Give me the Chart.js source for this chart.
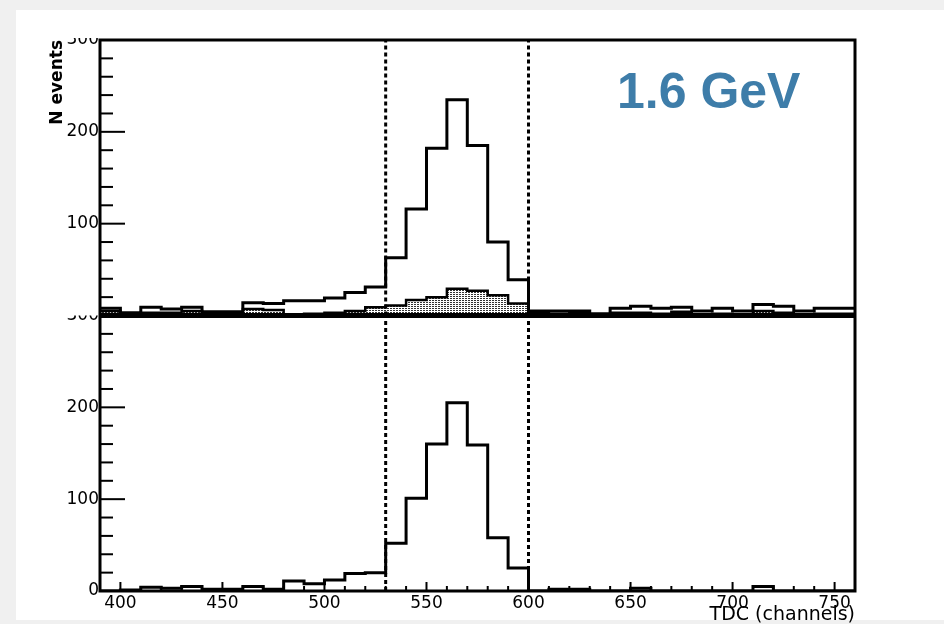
<!DOCTYPE html>
<html>
<head>
<meta charset="utf-8">
<script src="https://cdn.jsdelivr.net/npm/chart.js@4/dist/chart.umd.min.js"></script>
<style>
html,body{margin:0;padding:0;background:#f0f0f0;overflow:hidden}
canvas{position:absolute;left:0;top:0}
</style>
</head>
<body>
<canvas id="c" width="944" height="624"></canvas>
<script>
// ---- data ----
const binEdges = [390,400,410,420,430,440,450,460,470,480,490,500,510,520,530,540,550,560,570,580,590,600,610,620,630,640,650,660,670,680,690,700,710,720,730,740,750,760];
// top panel: all events (outline)
const topTotal = [8,3,9,7,9,4,4,14,13,16,16,19,25,31,63,116,182,235,185,80,39,5,5,5,2,8,10,8,9,5,8,5,12,10,5,8,8];
// top panel: background (dotted fill)
const topBackground = [5,2,3,3,5,2,1,7,6,1,2,3,5,9,11,17,20,29,27,22,13,3,2,3,1,3,3,2,4,1,2,1,5,3,1,2,2];
// bottom panel: after subtraction
const bottomSignal = [0,1,4,3,5,2,2,5,2,11,8,12,19,20,52,101,160,205,159,58,25,0,2,2,0,0,3,0,0,0,0,0,5,0,0,0,0];
const cutLines = [530, 600];
const yTickValues = [0,100,200,300];
const xTickValues = [400,450,500,550,600,650,700,750];
const yRange = [0,300];
const xRange = [390,760];
const energyLabel = '1.6 GeV';

function histPoints(vals){
  const pts = vals.map((v,i)=>({x:binEdges[i], y:v}));
  pts.push({x:binEdges[vals.length], y:vals[vals.length-1]});
  return pts;
}

// dotted fill pattern
const pc = document.createElement('canvas');
pc.width = 3; pc.height = 2;
const pctx = pc.getContext('2d');
pctx.fillStyle = '#ffffff'; pctx.fillRect(0,0,3,2);
pctx.fillStyle = '#333333'; pctx.fillRect(0,0,2,1);
const dotPattern = pctx.createPattern(pc,'repeat');

const datasets = [
  {data:histPoints(topTotal), yAxisID:'yTop', borderColor:'#000', borderWidth:3, stepped:'before', pointRadius:0, fill:false, order:1},
  {data:histPoints(topBackground), yAxisID:'yTop', borderColor:'#000', borderWidth:2.5, stepped:'before', pointRadius:0, fill:'origin', backgroundColor:dotPattern, order:2},
  {data:histPoints(bottomSignal), yAxisID:'yBot', borderColor:'#000', borderWidth:3, stepped:'before', pointRadius:0, fill:false, order:1}
];
cutLines.forEach(c=>{
  ['yTop','yBot'].forEach(ax=>{
    datasets.push({data:[{x:c,y:yRange[0]},{x:c,y:yRange[1]}], yAxisID:ax, borderColor:'#000', borderWidth:3, borderDash:[4,3], pointRadius:0, fill:false, order:0});
  });
});

const framePlugin = {
  id:'frame',
  beforeDraw(chart){
    const ctx = chart.ctx;
    ctx.save();
    ctx.fillStyle = '#f0f0f0'; ctx.fillRect(0,0,944,624);
    ctx.fillStyle = '#ffffff'; ctx.fillRect(16,10,928,610);
    ctx.restore();
  },
  afterDatasetsDraw(chart){
    const ctx = chart.ctx;
    const {left,right,top,bottom} = chart.chartArea;
    const yT = chart.scales.yTop, yB = chart.scales.yBot, x = chart.scales.x;
    const split = yT.getPixelForValue(0);
    ctx.save();
    // clip the partially hidden labels like the pad edges
    ctx.fillStyle = '#ffffff';
    ctx.fillRect(60, top-14, 38, 12);
    ctx.fillRect(60, split-10, 38, 10);
    ctx.strokeStyle = '#000';
    // ticks
    ctx.lineWidth = 2;
    [yT,yB].forEach(s=>{
      for(let v=yRange[0]; v<=yRange[1]; v+=20){
        const p = s.getPixelForValue(v);
        const len = (v%100===0)?25:13;
        ctx.beginPath(); ctx.moveTo(left,p); ctx.lineTo(left+len,p); ctx.stroke();
      }
    });
    for(let v=xRange[0]; v<=xRange[1]; v+=10){
      const p = x.getPixelForValue(v);
      const len = (v%50===0)?9:5;
      ctx.beginPath(); ctx.moveTo(p,bottom); ctx.lineTo(p,bottom-len); ctx.stroke();
    }
    // frame
    ctx.lineWidth = 3;
    ctx.strokeRect(left, top, right-left, bottom-top);
    ctx.lineWidth = 5;
    ctx.beginPath(); ctx.moveTo(left,split); ctx.lineTo(right,split); ctx.stroke();
    // energy label
    ctx.fillStyle = '#3e7da9';
    ctx.font = 'bold 50px "Liberation Sans"';
    ctx.textAlign = 'left'; ctx.textBaseline = 'alphabetic';
    ctx.fillText(energyLabel, 617, 108);
    ctx.restore();
  }
};

const tickFont = {family:'DejaVu Sans', size:17};
const yCommon = {
  type:'linear', position:'left', stack:'panels', stackWeight:1,
  min:yRange[0], max:yRange[1],
  afterFit:s=>{s.width=53;},
  afterBuildTicks:s=>{s.ticks=yTickValues.map(v=>({value:v}));},
  grid:{display:false, drawTicks:false}, border:{display:false},
  ticks:{font:tickFont, color:'#000', padding:1, autoSkip:false}
};

new Chart(document.getElementById('c'), {
  type:'line',
  data:{datasets},
  plugins:[framePlugin],
  options:{
    responsive:false, animation:false, devicePixelRatio:1,
    layout:{padding:{left:47,right:89,top:40,bottom:0}},
    plugins:{legend:{display:false}, tooltip:{enabled:false}},
    scales:{
      x:{type:'linear', position:'bottom', min:xRange[0], max:xRange[1],
        afterFit:s=>{s.height=33;},
        afterBuildTicks:s=>{s.ticks=xTickValues.map(v=>({value:v}));},
        grid:{display:false, drawTicks:false}, border:{display:false},
        ticks:{font:tickFont, color:'#000', padding:2, maxRotation:0, autoSkip:false},
        title:{display:true, text:'TDC (channels)', align:'end', color:'#000', font:{family:'DejaVu Sans', size:19}, padding:{top:0,bottom:-2}}
      },
      yBot:Object.assign({}, yCommon),
      yTop:Object.assign({}, yCommon, {
        ticks:Object.assign({}, yCommon.ticks, {callback:v=> v===0 ? '' : v}),
        title:{display:true, text:'N events', align:'end', color:'#000', font:{family:'DejaVu Sans', size:17, weight:'bold'}, padding:0}
      })
    }
  }
});
</script>
</body>
</html>
